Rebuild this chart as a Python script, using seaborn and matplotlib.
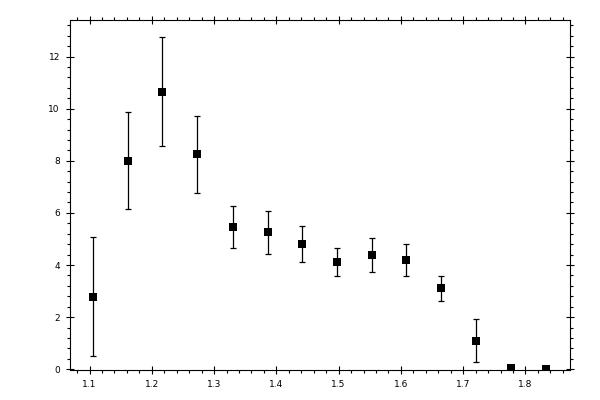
import numpy as np
import pandas as pd
import matplotlib
matplotlib.use('Agg')
import matplotlib.pyplot as plt
from matplotlib.ticker import MultipleLocator
import seaborn as sns

# values
x_vals = [1.105, 1.161, 1.217, 1.273, 1.330, 1.386, 1.441, 1.497, 1.553, 1.609, 1.665, 1.721, 1.777, 1.833]
y_vals = [2.77, 8.00, 10.65, 8.27, 5.45, 5.27, 4.81, 4.12, 4.38, 4.19, 3.12, 1.08, 0.06, 0.00]
y_upper = [5.08, 9.88, 12.77, 9.73, 6.26, 6.07, 5.51, 4.65, 5.04, 4.81, 3.58, 1.92, 0.06, 0.00]
y_lower = [0.51, 6.15, 8.58, 6.76, 4.65, 4.42, 4.12, 3.58, 3.73, 3.58, 2.62, 0.27, 0.06, 0.00]

df = pd.DataFrame({'x': x_vals, 'y': y_vals, 'hi': y_upper, 'lo': y_lower})
err = np.array([df['y'] - df['lo'], df['hi'] - df['y']])

sns.set_style('ticks')
plt.rcParams['font.family'] = ['DejaVu Sans']

fig = plt.figure(figsize=(6, 4), dpi=100)
ax = fig.add_axes([0.116, 0.075, 0.834, 0.876])

ax.errorbar(df['x'], df['y'], yerr=err, fmt='none', ecolor='black',
            elinewidth=0.9, capsize=2.5, capthick=0.9)
sns.scatterplot(data=df, x='x', y='y', marker='s', s=32, color='black',
                edgecolor='black', linewidth=0, ax=ax, zorder=3)

ax.set_xlim(1.068, 1.8716)
ax.set_ylim(-0.03, 13.42)
ax.xaxis.set_major_locator(MultipleLocator(0.1))
ax.xaxis.set_minor_locator(MultipleLocator(0.02))
ax.yaxis.set_major_locator(MultipleLocator(2))
ax.yaxis.set_minor_locator(MultipleLocator(0.4))
ax.set_xlabel('')
ax.set_ylabel('')

for s in ax.spines.values():
    s.set_visible(True)
    s.set_linewidth(0.8)
    s.set_color('black')

ax.tick_params(which='major', direction='inout', length=6, width=0.8,
               top=True, right=True, labelsize=6.5, pad=4,
               color='black', labelcolor='black')
ax.tick_params(which='minor', direction='out', length=2.5, width=0.8,
               top=True, right=True, color='black')

fig.savefig('out.png', dpi=100)
